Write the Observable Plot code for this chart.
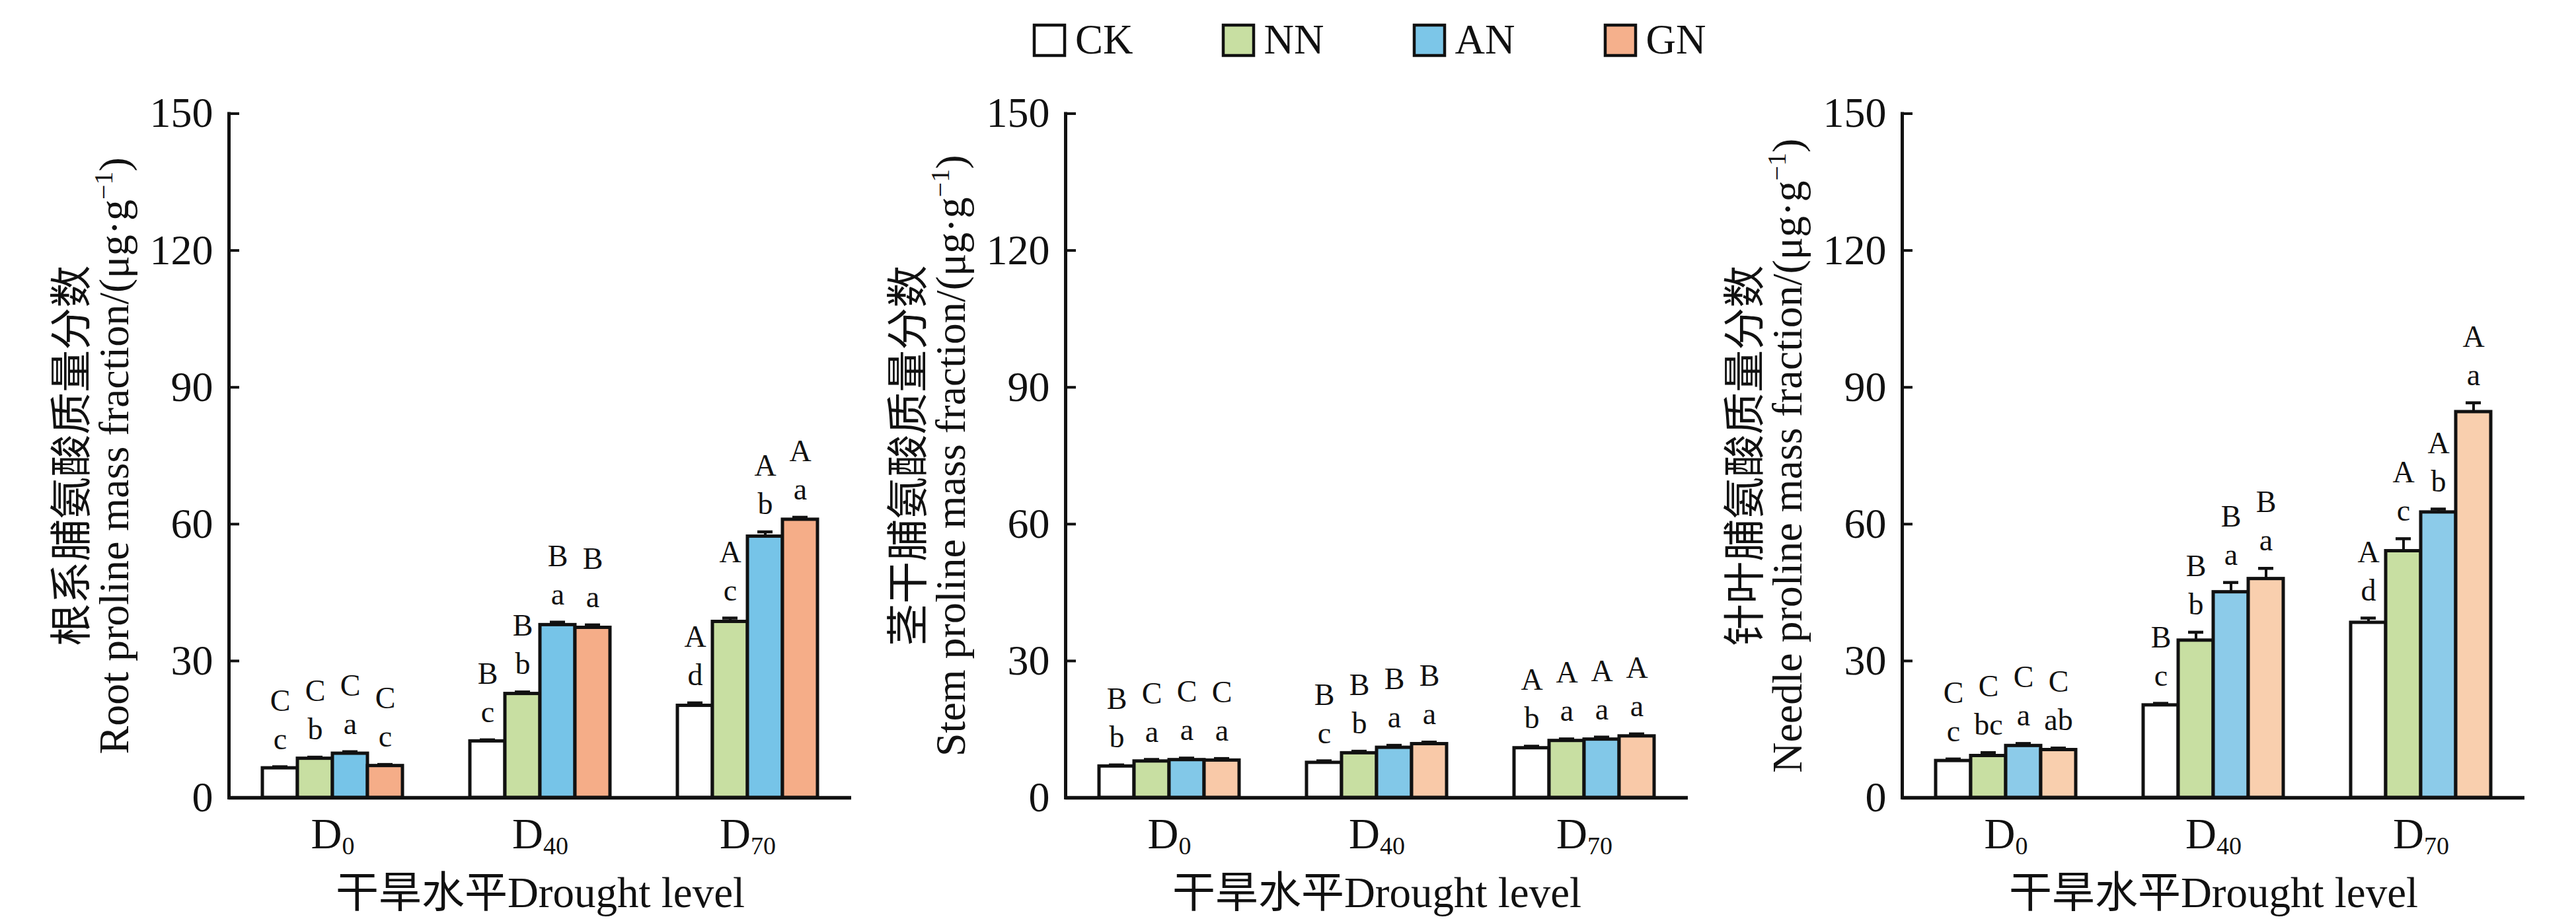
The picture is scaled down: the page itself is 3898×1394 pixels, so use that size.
<!DOCTYPE html>
<html><head><meta charset="utf-8">
<script src="https://cdn.jsdelivr.net/npm/d3@7"></script>
<script src="https://cdn.jsdelivr.net/npm/@observablehq/plot@0.6"></script>
<style>
html,body{margin:0;padding:0;background:#fff;}
#wrap{position:relative;width:3898px;height:1394px;overflow:hidden;background:#fff;}
.panel{position:absolute;top:120px;}
#legend{position:absolute;left:1565px;top:24px;}
.lg-swatch{margin-right:136px !important;}
.lg-swatch > svg{margin-right:16px !important;overflow:visible !important;}
.lg-swatch rect{stroke:#111;stroke-width:4.5px;}
</style></head><body><div id="wrap"><div id="legend"></div></div>
<script>
const groups = ["D0", "D40", "D70"];
const treatments = ["CK", "NN", "AN", "GN"];
const yTicks = [0, 30, 60, 90, 120, 150];
const xTitle = "干旱水平Drought level";

const rootMean = [[6.5, 8.6, 9.7, 7.0], [12.4, 22.8, 37.9, 37.3], [20.2, 38.6, 57.3, 61.0]];
const rootSE = [[0.3, 0.3, 0.4, 0.3], [0.3, 0.4, 0.6, 0.6], [0.6, 0.8, 1.0, 0.5]];
const rootUpper = [["C", "C", "C", "C"], ["B", "B", "B", "B"], ["A", "A", "A", "A"]];
const rootLower = [["c", "b", "a", "c"], ["c", "b", "a", "a"], ["d", "c", "b", "a"]];

const stemMean = [[6.9, 8.0, 8.3, 8.2], [7.7, 9.8, 11.0, 11.8], [10.9, 12.5, 12.8, 13.5]];
const stemSE = [[0.3, 0.4, 0.4, 0.4], [0.4, 0.4, 0.5, 0.4], [0.4, 0.4, 0.5, 0.5]];
const stemUpper = [["B", "C", "C", "C"], ["B", "B", "B", "B"], ["A", "A", "A", "A"]];
const stemLower = [["b", "a", "a", "a"], ["c", "b", "a", "a"], ["b", "a", "a", "a"]];

const needleMean = [[8.1, 9.2, 11.4, 10.5], [20.3, 34.5, 45.1, 48.0], [38.4, 54.1, 62.6, 84.6]];
const needleSE = [[0.4, 0.7, 0.5, 0.4], [0.4, 1.8, 2.1, 2.3], [1.0, 2.7, 0.7, 2.0]];
const needleUpper = [["C", "C", "C", "C"], ["B", "B", "B", "B"], ["A", "A", "A", "A"]];
const needleLower = [["c", "bc", "a", "ab"], ["c", "b", "a", "a"], ["d", "c", "b", "a"]];

const rootTitle = "根系脯氨酸质量分数\nRoot proline mass fraction/(μg·g^-1)";
const stemTitle = "茎干脯氨酸质量分数\nStem proline mass fraction/(μg·g^-1)";
const needleTitle = "针叶脯氨酸质量分数\nNeedle proline mass fraction/(μg·g^-1)";

// styles
const FONT = '"Liberation Serif", "Times New Roman", "Noto Sans CJK SC", serif';
const INK = "#111";
const legendColors = ["#ffffff", "#c8dfa2", "#7cc6e8", "#f5b08c"];
const rootColors = ["#ffffff", "#c8dfa2", "#76c4e8", "#f5ad88"];
const stemColors = ["#ffffff", "#c8dfa2", "#82c8e8", "#f9c9a8"];
const needleColors = ["#ffffff", "#c8dfa2", "#8ccbe9", "#f9cfae"];

function rows(mean, se, upper, lower) {
  const out = [];
  groups.forEach((g, i) => treatments.forEach((t, j) => out.push({
    group: g, treatment: t, mean: mean[i][j], top: mean[i][j] + se[i][j],
    upper: upper[i][j], lower: lower[i][j]
  })));
  return out;
}

const NS = "http://www.w3.org/2000/svg";
function panel(data, colors, yTitle, left) {
  const chart = Plot.plot({
    width: 1266, height: 1274,
    marginLeft: 300, marginRight: 22, marginTop: 51.5, marginBottom: 187,
    style: {fontFamily: FONT, fontSize: "64px", background: "transparent", overflow: "visible", color: INK},
    facet: {data, x: "group"},
    fx: {domain: groups, paddingInner: 0, paddingOuter: 0},
    x: {domain: treatments, paddingInner: 0, paddingOuter: 0.945, axis: null},
    y: {domain: [0, 150]},
    color: {domain: treatments, range: colors},
    marks: [
      Plot.barY(data, {x: "treatment", y: "mean", fill: "treatment", stroke: INK, strokeWidth: 5}),
      Plot.ruleX(data, {x: "treatment", y1: "mean", y2: "top", stroke: INK, strokeWidth: 4}),
      Plot.tickY(data, {x: "treatment", y: "top", stroke: INK, strokeWidth: 4.5, insetLeft: 15, insetRight: 15}),
      Plot.text(data, {x: "treatment", y: "top", text: "lower", dy: -27, lineAnchor: "bottom", fontSize: 46, fill: INK}),
      Plot.text(data, {x: "treatment", y: "top", text: "upper", dy: -85, lineAnchor: "bottom", fontSize: 46, fill: INK}),
      Plot.ruleY([0], {stroke: INK, strokeWidth: 5.5}),
      Plot.frame({anchor: "left", facetAnchor: "left", stroke: INK, strokeWidth: 5}),
      Plot.axisY({ticks: yTicks, tickSize: -16, tickPadding: 40, strokeWidth: 4, fontSize: 64,
        label: yTitle, labelAnchor: "center", labelOffset: 262, labelArrow: "none"}),
      Plot.axisFx({anchor: "bottom", tickSize: 0, tickPadding: 30, fontSize: 65,
        label: xTitle, labelAnchor: "center", labelOffset: 165, labelArrow: "none"})
    ]
  });
  // subscripts on drought levels
  chart.querySelectorAll('g[aria-label="fx-axis tick label"] text').forEach(t => {
    const s = t.textContent;
    t.textContent = "";
    const a = document.createElementNS(NS, "tspan"); a.textContent = s[0]; t.appendChild(a);
    const b = document.createElementNS(NS, "tspan"); b.setAttribute("dy", "9"); b.setAttribute("font-size", "38"); b.textContent = s.slice(1); t.appendChild(b);
  });
  // superscript in unit
  chart.querySelectorAll('g[aria-label="y-axis label"] tspan, g[aria-label="y-axis label"] text').forEach(el => {
    if (el.childElementCount === 0 && el.textContent.includes("^-1")) {
      const [pre, post] = el.textContent.split("^-1");
      el.textContent = pre;
      const sup = document.createElementNS(NS, "tspan"); sup.setAttribute("dy", "-24"); sup.setAttribute("font-size", "40"); sup.textContent = "−1"; el.appendChild(sup);
      const rest = document.createElementNS(NS, "tspan"); rest.setAttribute("dy", "24"); rest.textContent = post; el.appendChild(rest);
    }
  });
  chart.classList.add("panel");
  chart.style.left = left + "px";
  chart.style.top = "120px";
  chart.style.position = "absolute";
  document.getElementById("wrap").appendChild(chart);
}

panel(rows(rootMean, rootSE, rootUpper, rootLower), rootColors, rootTitle, 45);
panel(rows(stemMean, stemSE, stemUpper, stemLower), stemColors, stemTitle, 1311);
panel(rows(needleMean, needleSE, needleUpper, needleLower), needleColors, needleTitle, 2577);

const lg = Plot.legend({
  legend: "swatches",
  color: {domain: treatments, range: legendColors},
  swatchSize: 46,
  className: "lg",
  style: {fontSize: "63px", fontFamily: FONT, color: INK}
});
document.getElementById("legend").appendChild(lg);
</script>
</body></html>
